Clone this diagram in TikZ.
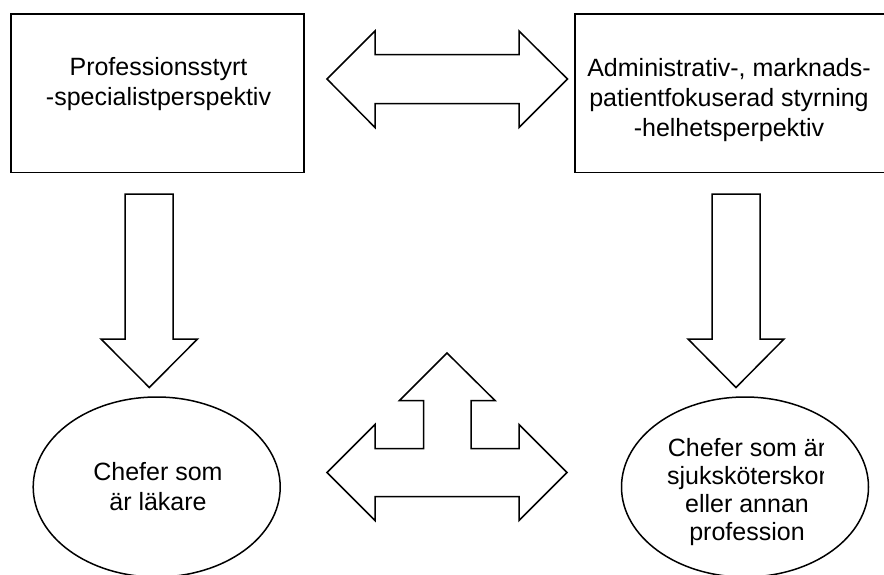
\documentclass[tikz,border=0pt]{standalone}
\usepackage{fontspec}
\setmainfont{Liberation Sans}
\usepackage{tikz}
\usetikzlibrary{shapes.geometric, positioning}

\begin{document}
\begin{tikzpicture}[x=0.5pt, y=-0.5pt, line width=0.75pt,
        box/.style={draw, rectangle, inner sep=0pt},
        oval/.style={draw, ellipse, inner sep=0pt, minimum width=123.5pt, minimum height=90pt},
        txt/.style={align=center, anchor=base, inner sep=0pt, font=\fontsize{12.5}{15}\selectfont},
        blockarrow/.style={draw, line join=miter}]

        \useasboundingbox (0,0) rectangle (884,574);

        \node[box, minimum width=146.5pt, minimum height=79.3pt] (prof) at (157.5,93.3) {};
        \node[box, minimum width=156pt, minimum height=79.3pt] (adm) at (731,93.3) {};
        \node[oval] (lak) at (156.7,487) {};
        \node[oval] (ssk) at (745,487) {};

        \node[txt] (proftxt) at (158.5,105) {Professionsstyrt\\-specialistperspektiv};
        \node[txt] (admtxt) at (729,136) {Administrativ-, marknads-\\patientfokuserad styrning\\-helhetsperpektiv};
        \node[txt] (laktxt) at (158,510) {Chefer som\\är läkare};
        \begin{scope}
            \clip (600,380) rectangle (823,574);
            \node[txt, font=\fontsize{12.5}{14}\selectfont] (ssktxt) at (747,540) {Chefer som är\\sjuksköterskor\\eller annan\\profession};
        \end{scope}

        \draw[blockarrow] (327,79) -- (375,31) -- (375,54.5) -- (519,54.5) -- (519,31) -- (567.5,79)
            -- (519,127.5) -- (519,103.5) -- (375,103.5) -- (375,127.5) -- cycle;

        \draw[blockarrow] (125,194) -- (173,194) -- (173,339) -- (197.5,339) -- (149.3,387.5)
            -- (101,339) -- (125,339) -- cycle;
        \draw[blockarrow] (712,194) -- (760,194) -- (760,339) -- (784,339) -- (736,387.5)
            -- (688,339) -- (712,339) -- cycle;

        \draw[blockarrow] (327,472.5) -- (375,424.5) -- (375,448.5) -- (423.5,448.5) -- (423.5,400.5)
            -- (399.5,400.5) -- (447,353) -- (495,400.5) -- (471,400.5) -- (471,448.5) -- (519,448.5)
            -- (519,424.5) -- (567,472.5) -- (519,520.5) -- (519,496.5) -- (375,496.5) -- (375,520.5) -- cycle;

\end{tikzpicture}
\end{document}
